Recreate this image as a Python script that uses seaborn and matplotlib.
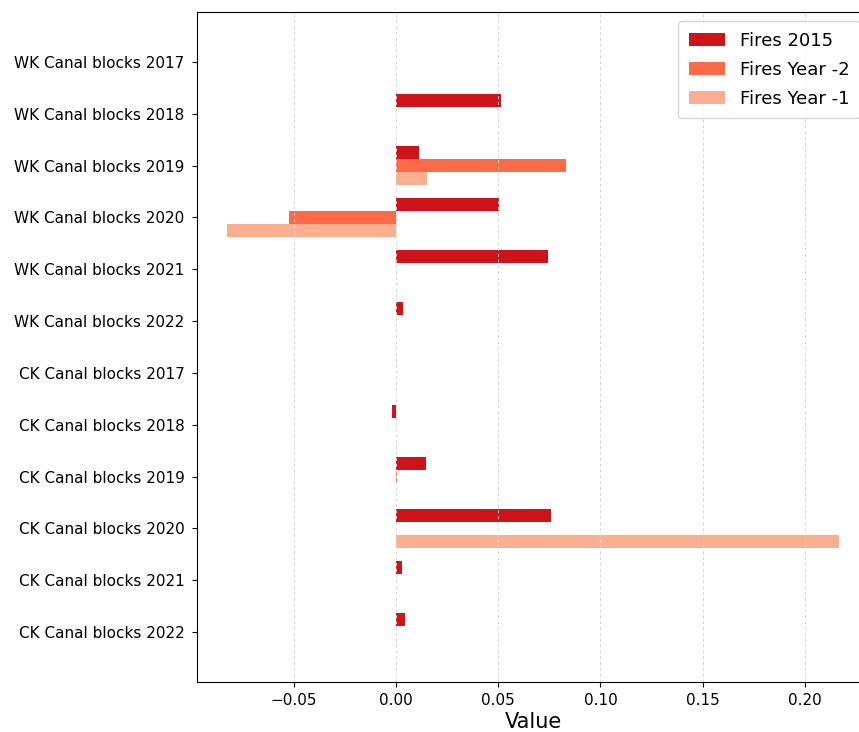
import numpy as np
import pandas as pd
import matplotlib
matplotlib.use("Agg")
import matplotlib.pyplot as plt
import seaborn as sns

categories = [
    "WK Canal blocks 2017", "WK Canal blocks 2018", "WK Canal blocks 2019",
    "WK Canal blocks 2020", "WK Canal blocks 2021", "WK Canal blocks 2022",
    "CK Canal blocks 2017", "CK Canal blocks 2018", "CK Canal blocks 2019",
    "CK Canal blocks 2020", "CK Canal blocks 2021", "CK Canal blocks 2022",
]
fires_2015 = [np.nan, 0.0515, 0.0113, 0.0505, 0.0745, 0.0034,
              np.nan, -0.0018, 0.0147, 0.0760, 0.0030, 0.0044]
fires_year_m2 = [np.nan, np.nan, 0.0833, -0.0525, np.nan, np.nan,
                 np.nan, np.nan, 0.0004, np.nan, np.nan, np.nan]
fires_year_m1 = [np.nan, np.nan, 0.0152, -0.0828, np.nan, np.nan,
                 np.nan, np.nan, np.nan, 0.2170, np.nan, np.nan]
series_names = ["Fires 2015", "Fires Year -2", "Fires Year -1"]
colors = ["#d0121b", "#fd6a47", "#fdae90"]

frames = []
for name, vals in zip(series_names, [fires_2015, fires_year_m2, fires_year_m1]):
    frames.append(pd.DataFrame({"Category": categories, "Value": vals, "Series": name}))
df = pd.concat(frames, ignore_index=True)

fig = plt.figure(figsize=(8.59, 7.32), dpi=100)
ax = fig.add_axes([197 / 859, 1 - 682 / 732, (869 - 197) / 859, 670 / 732])

sns.barplot(data=df, y="Category", x="Value", hue="Series", order=categories,
            hue_order=series_names, palette=colors, saturation=1, orient="h",
            width=0.75, errorbar=None, linewidth=0, ax=ax)

ax.set_ylim(11.9625, -0.9625)
ax.set_xlim(-0.0975, 0.2315)
ax.set_ylabel("")
ax.set_xlabel("Value", fontsize=15, labelpad=3)
ax.tick_params(axis="both", labelsize=11)
ax.tick_params(axis="y", pad=5.5)
ax.tick_params(axis="x", pad=4.5)
ax.set_axisbelow(False)
ax.grid(axis="x", linestyle=(0, (3, 3)), color="#d4d4d4", linewidth=0.7)
ax.grid(axis="y", visible=False)
ax.legend(loc="upper right", fontsize=13, title=None, handlelength=2.0,
          labelspacing=0.6, borderpad=0.6)

fig.savefig("out.png", dpi=100)
